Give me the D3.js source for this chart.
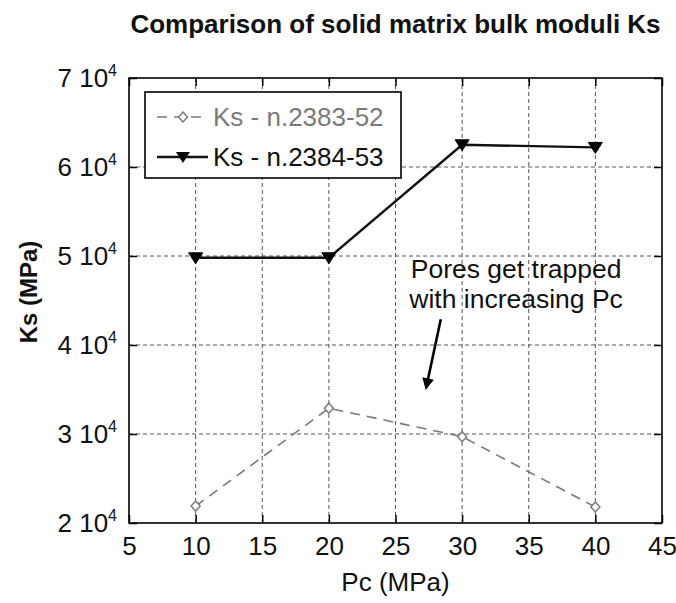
<!DOCTYPE html>
<html><head><meta charset="utf-8">
<script src="https://cdn.jsdelivr.net/npm/d3@7"></script>
<style>
html,body{margin:0;padding:0;background:#fff;}
text{font-family:"Liberation Sans",Arial,Helvetica,sans-serif;}
</style></head>
<body><svg id="c" width="676" height="603"></svg>
<script>
// ---- data ----
const pc = [10, 20, 30, 40];
const ks2383 = [21900, 32900, 29700, 21800];
const ks2384 = [49800, 49800, 62500, 62200];
const seriesNames = ["Ks - n.2383-52", "Ks - n.2384-53"];
const xTicks = [5, 10, 15, 20, 25, 30, 35, 40, 45];
const yTicks = [20000, 30000, 40000, 50000, 60000, 70000];
const yTickMantissa = ["2", "3", "4", "5", "6", "7"];
const titleText = "Comparison of solid matrix bulk moduli Ks";
const xLabel = "Pc (MPa)";
const yLabel = "Ks (MPa)";
const noteLines = ["Pores get trapped", "with increasing Pc"];
const notePos = [34.05, 47500];       // data coords of annotation text (center, first baseline)
const arrowFrom = [28.4, 42900];
const arrowTo = [27.3, 35200];

// ---- layout ----
const svg = d3.select("#c");
const L = 129, R = 662, T = 78, B = 523;
const x = d3.scaleLinear().domain([5, 45]).range([L, R]);
const y = d3.scaleLinear().domain([20000, 70000]).range([B, T]);

// grid
const g = svg.append("g");
g.selectAll(".gx").data(xTicks.slice(1, -1)).enter().append("line")
  .attr("x1", d => x(d)).attr("x2", d => x(d)).attr("y1", T).attr("y2", B)
  .attr("stroke", "#555").attr("stroke-width", 1).attr("stroke-dasharray", "4,3");
g.selectAll(".gy").data(yTicks.slice(1, -1)).enter().append("line")
  .attr("y1", d => y(d)).attr("y2", d => y(d)).attr("x1", L).attr("x2", R)
  .attr("stroke", "#555").attr("stroke-width", 1).attr("stroke-dasharray", "4,3");

// axes (inner ticks)
const fs = 26;
const ax = svg.append("g").attr("transform", `translate(0,${B})`)
  .call(d3.axisBottom(x).tickValues(xTicks).tickSizeInner(-8).tickSizeOuter(0).tickPadding(16));
const axT = svg.append("g").attr("transform", `translate(0,${T})`)
  .call(d3.axisTop(x).tickValues(xTicks).tickSizeInner(-8).tickSizeOuter(0).tickFormat(""));
const ay = svg.append("g").attr("transform", `translate(${L},0)`)
  .call(d3.axisLeft(y).tickValues(yTicks).tickSizeInner(-8).tickSizeOuter(0).tickFormat(""));
const ayR = svg.append("g").attr("transform", `translate(${R},0)`)
  .call(d3.axisRight(y).tickValues(yTicks).tickSizeInner(-8).tickSizeOuter(0).tickFormat(""));
[ax, axT, ay, ayR].forEach(a => {
  a.select(".domain").remove();
  a.selectAll(".tick line").attr("stroke", "#000").attr("stroke-width", 1.5);
});
ax.selectAll(".tick text").attr("font-size", fs).attr("fill", "#111")
  .attr("font-family", "'Liberation Sans',Arial,sans-serif").attr("dy", null).attr("y", 32);

// y tick labels "n 10^4"
yTicks.forEach((v, i) => {
  const t = svg.append("text").attr("x", 117).attr("y", y(v) + 9)
    .attr("text-anchor", "end").attr("font-size", fs).attr("fill", "#111");
  t.append("tspan").text(yTickMantissa[i] + " 10");
  t.append("tspan").attr("font-size", 16).attr("dy", -11).text("4");
});

// box
svg.append("rect").attr("x", L).attr("y", T).attr("width", R - L).attr("height", B - T)
  .attr("fill", "none").attr("stroke", "#000").attr("stroke-width", 1.6);

// series 1: gray dashed with open diamonds
const line = d3.line().x(d => x(d[0])).y(d => y(d[1]));
const s1 = pc.map((p, i) => [p, ks2383[i]]);
const s2 = pc.map((p, i) => [p, ks2384[i]]);
svg.append("path").attr("d", line(s1)).attr("fill", "none")
  .attr("stroke", "#7a7a7a").attr("stroke-width", 1.6).attr("stroke-dasharray", "10,7");
const diamond = "M0,-5L4.5,0L0,5L-4.5,0Z";
svg.selectAll(".m1").data(s1).enter().append("path")
  .attr("transform", d => `translate(${x(d[0])},${y(d[1])})`).attr("d", diamond)
  .attr("fill", "#fff").attr("stroke", "#7a7a7a").attr("stroke-width", 1.5);

// series 2: black solid with filled down-triangles
svg.append("path").attr("d", line(s2)).attr("fill", "none")
  .attr("stroke", "#111").attr("stroke-width", 2.4);
const tri = "M-7,-5L7,-5L0,6Z";
svg.selectAll(".m2").data(s2).enter().append("path")
  .attr("transform", d => `translate(${x(d[0])},${y(d[1])})`).attr("d", tri)
  .attr("fill", "#000").attr("stroke", "#000").attr("stroke-width", 1);

// legend
const lg = svg.append("g");
lg.append("rect").attr("x", 145).attr("y", 92).attr("width", 256).attr("height", 86)
  .attr("fill", "#fff").attr("stroke", "#000").attr("stroke-width", 1.6);
lg.append("line").attr("x1", 157).attr("x2", 208).attr("y1", 117).attr("y2", 117)
  .attr("stroke", "#7a7a7a").attr("stroke-width", 1.6).attr("stroke-dasharray", "10,7");
lg.append("path").attr("transform", "translate(183,117)").attr("d", diamond)
  .attr("fill", "#fff").attr("stroke", "#7a7a7a").attr("stroke-width", 1.5);
lg.append("text").attr("x", 213).attr("y", 126).attr("font-size", fs).attr("fill", "#7a7a7a").text(seriesNames[0]);
lg.append("line").attr("x1", 157).attr("x2", 208).attr("y1", 157).attr("y2", 157)
  .attr("stroke", "#111").attr("stroke-width", 2.4);
lg.append("path").attr("transform", "translate(183,157)").attr("d", tri).attr("fill", "#000");
lg.append("text").attr("x", 213).attr("y", 166).attr("font-size", fs).attr("fill", "#111").text(seriesNames[1]);

// annotation
noteLines.forEach((s, i) => {
  svg.append("text").attr("x", x(notePos[0])).attr("y", y(notePos[1]) + i * 30)
    .attr("text-anchor", "middle").attr("font-size", 26.5).attr("fill", "#111").text(s);
});
svg.append("defs").append("marker").attr("id", "ah").attr("viewBox", "0 0 10 10")
  .attr("refX", 8).attr("refY", 5).attr("markerWidth", 5.5).attr("markerHeight", 4.5)
  .attr("orient", "auto").append("path").attr("d", "M0,0L10,5L0,10Z").attr("fill", "#000");
svg.append("line").attr("x1", x(arrowFrom[0])).attr("y1", y(arrowFrom[1]))
  .attr("x2", x(arrowTo[0])).attr("y2", y(arrowTo[1]))
  .attr("stroke", "#000").attr("stroke-width", 2.6).attr("marker-end", "url(#ah)");

// title & axis labels
svg.append("text").attr("x", (L + R) / 2).attr("y", 33).attr("text-anchor", "middle")
  .attr("font-size", 26).attr("font-weight", "bold").attr("fill", "#111").text(titleText);
svg.append("text").attr("x", (L + R) / 2).attr("y", 591).attr("text-anchor", "middle")
  .attr("font-size", fs).attr("fill", "#111").text(xLabel);
svg.append("text").attr("transform", "translate(37,292) rotate(-90)").attr("text-anchor", "middle")
  .attr("font-size", 24).attr("font-weight", "bold").attr("fill", "#111").text(yLabel);
</script></body></html>
